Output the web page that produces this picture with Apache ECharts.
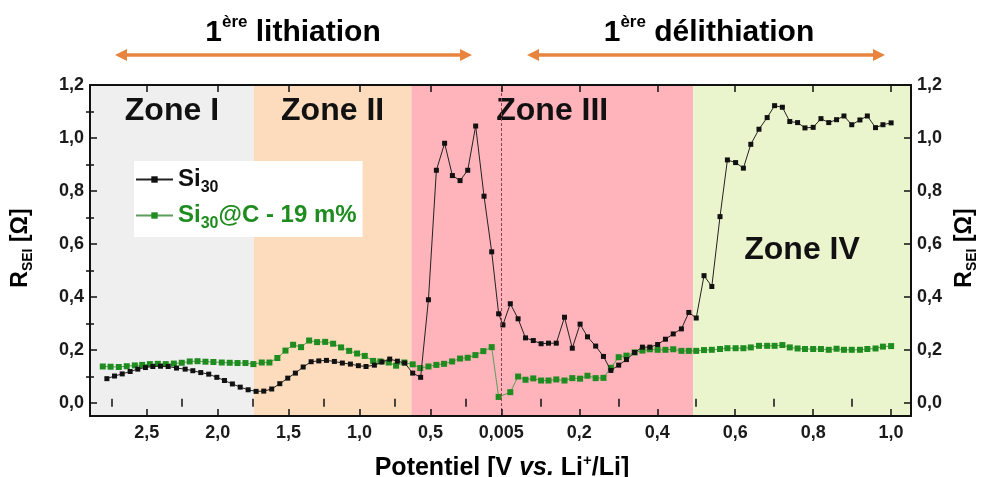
<!DOCTYPE html>
<html><head><meta charset="utf-8">
<script src="https://cdn.jsdelivr.net/npm/echarts@6/dist/echarts.min.js"></script>
<style>html,body{margin:0;padding:0;background:#fff}#c{width:984px;height:477px}</style>
</head><body><div id="c"></div>
<script>
const FONT = '"Liberation Sans", Arial, Helvetica, sans-serif';

// ---------------- data (potential in V, R_SEI in Ohm) ----------------
// Si30 - 1st lithiation (potential decreasing)
const si30LithV = [2.781,2.727,2.673,2.617,2.563,2.509,2.457,2.403,2.349,2.290,2.229,2.175,2.119,2.063,2.006,1.952,1.896,1.841,1.785,1.729,1.675,1.619,1.562,1.506,1.452,1.397,1.341,1.287,1.233,1.177,1.121,1.064,1.008,0.954,0.895,0.841,0.787,0.733,0.681,0.625,0.569,0.514,0.458,0.400,0.345,0.291,0.237,0.181,0.122,0.068,0.019];
const si30LithR = [0.091,0.101,0.109,0.118,0.127,0.133,0.137,0.138,0.137,0.131,0.127,0.121,0.114,0.108,0.096,0.084,0.071,0.059,0.049,0.043,0.044,0.052,0.072,0.093,0.112,0.135,0.155,0.158,0.160,0.156,0.150,0.146,0.140,0.137,0.142,0.154,0.165,0.157,0.150,0.112,0.096,0.389,0.878,0.980,0.858,0.839,0.878,1.045,0.780,0.570,0.336];
// Si30 - 1st delithiation (potential increasing)
const si30DelithV = [0.004,0.023,0.043,0.062,0.082,0.102,0.121,0.141,0.162,0.182,0.202,0.221,0.242,0.262,0.281,0.301,0.321,0.342,0.362,0.381,0.401,0.421,0.441,0.462,0.481,0.500,0.520,0.540,0.561,0.580,0.601,0.621,0.640,0.661,0.682,0.701,0.721,0.740,0.760,0.779,0.800,0.820,0.840,0.860,0.879,0.899,0.920,0.939,0.960,0.979,1.000];
const si30DelithR = [0.294,0.374,0.317,0.245,0.235,0.223,0.225,0.225,0.323,0.206,0.297,0.249,0.214,0.175,0.122,0.142,0.163,0.190,0.210,0.210,0.220,0.240,0.260,0.279,0.341,0.320,0.480,0.439,0.703,0.917,0.907,0.886,0.976,1.033,1.077,1.122,1.116,1.062,1.058,1.038,1.040,1.073,1.058,1.069,1.083,1.050,1.068,1.083,1.039,1.050,1.057];
// Si30@C - 19 m% - 1st lithiation
const si30cLithV = [2.810,2.755,2.697,2.641,2.584,2.532,2.478,2.422,2.366,2.309,2.253,2.197,2.142,2.086,2.030,1.971,1.915,1.860,1.804,1.748,1.689,1.635,1.579,1.522,1.468,1.412,1.355,1.299,1.242,1.186,1.130,1.073,1.017,0.963,0.904,0.853,0.794,0.742,0.684,0.625,0.572,0.514,0.458,0.404,0.347,0.291,0.237,0.183,0.127,0.068,0.019];
const si30cLithR = [0.137,0.136,0.135,0.138,0.141,0.143,0.146,0.147,0.146,0.148,0.151,0.156,0.157,0.155,0.154,0.152,0.151,0.150,0.150,0.146,0.152,0.152,0.169,0.197,0.219,0.210,0.235,0.229,0.230,0.223,0.209,0.196,0.186,0.177,0.158,0.156,0.152,0.140,0.152,0.145,0.131,0.137,0.143,0.147,0.156,0.167,0.170,0.180,0.195,0.210,0.022];
// Si30@C - 19 m% - 1st delithiation
const si30cDelithV = [0.023,0.043,0.062,0.082,0.102,0.121,0.141,0.162,0.182,0.202,0.221,0.242,0.262,0.281,0.301,0.321,0.342,0.362,0.381,0.401,0.421,0.441,0.462,0.481,0.500,0.520,0.540,0.561,0.580,0.601,0.621,0.640,0.661,0.682,0.701,0.721,0.740,0.760,0.779,0.800,0.820,0.840,0.860,0.879,0.899,0.920,0.939,0.960,0.979,1.000];
const si30cDelithR = [0.040,0.099,0.087,0.092,0.084,0.084,0.088,0.084,0.093,0.091,0.102,0.093,0.094,0.132,0.172,0.178,0.190,0.197,0.202,0.200,0.200,0.202,0.196,0.196,0.196,0.199,0.200,0.203,0.206,0.206,0.206,0.209,0.215,0.215,0.215,0.218,0.209,0.205,0.203,0.203,0.203,0.200,0.204,0.200,0.200,0.200,0.203,0.205,0.212,0.214];

const seriesNames = ['Si30', 'Si30@C - 19 m%'];

// tick labels
const lithTicks = [2.5, 2.0, 1.5, 1.0, 0.5];
const lithMinorTicks = [2.75, 2.25, 1.75, 1.25, 0.75, 0.25];
const turnLabel = '0,005';
const delithTicks = [0.2, 0.4, 0.6, 0.8, 1.0];
const delithMinorTicks = [0.1, 0.3, 0.5, 0.7, 0.9];
const yTicks = [0, 0.2, 0.4, 0.6, 0.8, 1.0, 1.2];
const yMinorTicks = [0.1, 0.3, 0.5, 0.7, 0.9, 1.1];

// zones
const zoneNames = ['Zone I', 'Zone II', 'Zone III', 'Zone IV'];
const zoneStart = [['lith', 2.9], ['lith', 1.745], ['lith', 0.634], ['delith', 0.492]];
const zoneEnd   = [['lith', 1.745], ['lith', 0.634], ['delith', 0.492], ['delith', 1.051]];
const zoneColors = ['#efefef', '#fcdcbd', '#ffb3ba', '#ebf5cd'];

const titles = ['1ère lithiation', '1ère délithiation'];

// ---------------- axis mapping (two branches on one axis) ----------------
const LITH_START = 2.9;       // potential at the left edge
const DELITH_END = 1.051;     // potential at the right edge
const DELITH_STRETCH = 2.748; // delithiation branch drawn wider per volt
const toU = (branch, v) => branch === 'lith' ? LITH_START - v : LITH_START + v * DELITH_STRETCH;
const U_MAX = toU('delith', DELITH_END);
const fmt = v => v.toFixed(1).replace('.', ',');

const xLabelItems = lithTicks.map(v => ({u: toU('lith', v), t: fmt(v)}))
  .concat([{u: toU('lith', 0), t: turnLabel}])
  .concat(delithTicks.map(v => ({u: toU('delith', v), t: fmt(v)})));
const xMajor = xLabelItems.map(d => d.u);
const xMinor = lithMinorTicks.map(v => toU('lith', v)).concat(delithMinorTicks.map(v => toU('delith', v)));
const xFormatter = val => {
  let best = xLabelItems[0];
  xLabelItems.forEach(d => { if (Math.abs(d.u - val) < Math.abs(best.u - val)) best = d; });
  return best.t;
};

const build = (lv, lr, dv, dr) =>
  lv.map((v, i) => [toU('lith', v), lr[i]]).concat(dv.map((v, i) => [toU('delith', v), dr[i]]));

const INK = '#111';
const GREEN = '#1e8c1e';
const tickLabelStyle = {fontFamily: FONT, fontSize: 18, fontWeight: 'bold', color: '#1a1a1a'};
const axLine = {show: true, onZero: false, lineStyle: {color: INK, width: 2}};

const xAxisBase = {type: 'value', min: 0, max: U_MAX, z: 5, splitLine: {show: false}, axisPointer: {show: false}};
const yAxisBase = {type: 'value', min: -0.05, max: 1.2, z: 5, splitLine: {show: false}};

const xAxes = [
  Object.assign({}, xAxisBase, {position: 'bottom', axisLine: axLine,
    axisTick: {inside: true, length: 7, customValues: xMajor, lineStyle: {color: INK, width: 1.5}},
    axisLabel: Object.assign({customValues: xMajor, formatter: xFormatter, margin: 8}, tickLabelStyle)}),
  Object.assign({}, xAxisBase, {position: 'bottom', axisLine: {show: false},
    axisTick: {inside: true, length: 4, customValues: xMinor, lineStyle: {color: INK, width: 1.5}},
    axisLabel: {show: false}}),
  Object.assign({}, xAxisBase, {position: 'top', axisLine: axLine,
    axisTick: {inside: true, length: 7, customValues: xMajor, lineStyle: {color: INK, width: 1.5}},
    axisLabel: {show: false}}),
  Object.assign({}, xAxisBase, {position: 'top', axisLine: {show: false},
    axisTick: {inside: true, length: 4, customValues: xMinor, lineStyle: {color: INK, width: 1.5}},
    axisLabel: {show: false}})
];
const yAxes = ['left', 'right'].map(pos =>
  Object.assign({}, yAxisBase, {position: pos, axisLine: axLine,
    axisTick: {inside: true, length: 7, customValues: yTicks, lineStyle: {color: INK, width: 1.5}},
    axisLabel: Object.assign({customValues: yTicks, formatter: v => fmt(v), margin: 6}, tickLabelStyle)})
).concat(['left', 'right'].map(pos =>
  Object.assign({}, yAxisBase, {position: pos, axisLine: {show: false},
    axisTick: {inside: true, length: 4, customValues: yMinorTicks, lineStyle: {color: INK, width: 1.5}},
    axisLabel: {show: false}})
));

const zoneAreas = zoneNames.map((n, i) => {
  const isLast = i === zoneNames.length - 1;
  return [{
    name: n,
    xAxis: toU(zoneStart[i][0], zoneStart[i][1]),
    itemStyle: {color: zoneColors[i], opacity: 1},
    label: {show: true, position: isLast ? 'inside' : 'insideTop', distance: 10,
      fontFamily: FONT, fontSize: 32, fontWeight: 'bold', color: '#111'}
  }, {xAxis: toU(zoneEnd[i][0], zoneEnd[i][1])}];
});

// decorative double arrows
const ORANGE = '#e8843e';
function arrow(x1, x2, y) {
  return [
    {type: 'line', shape: {x1: x1 + 6, y1: y, x2: x2 - 6, y2: y}, style: {stroke: ORANGE, lineWidth: 3.5}},
    {type: 'polygon', shape: {points: [[x1, y], [x1 + 12, y - 6], [x1 + 12, y + 6]]}, style: {fill: ORANGE}},
    {type: 'polygon', shape: {points: [[x2, y], [x2 - 12, y - 6], [x2 - 12, y + 6]]}, style: {fill: ORANGE}}
  ];
}
const titleRich = {
  m: {fontFamily: FONT, fontSize: 30, fontWeight: 'bold', color: '#111', verticalAlign: 'bottom', lineHeight: 34},
  sup: {fontFamily: FONT, fontSize: 17, fontWeight: 'bold', color: '#111', verticalAlign: 'top', lineHeight: 18}
};
const titleText = t => t.replace(/^1(ère)(.*)$/, '{m|1}{sup|$1}{m|$2}');
const nameRich = {
  m: {fontFamily: FONT, fontSize: 23, fontWeight: 'bold', color: '#111', verticalAlign: 'top', lineHeight: 26},
  s: {fontFamily: FONT, fontSize: 14, fontWeight: 'bold', color: '#111', verticalAlign: 'bottom', lineHeight: 14}
};

const chart = echarts.init(document.getElementById('c'), null, {renderer: 'canvas'});
chart.setOption({
  animation: false,
  backgroundColor: '#fff',
  grid: {left: 90, right: 73, top: 85, bottom: 61, containLabel: false},
  xAxis: xAxes,
  yAxis: yAxes,
  legend: {
    orient: 'vertical', left: 134, top: 161,
    backgroundColor: '#fff', padding: [6, 6, 5, 1],
    itemWidth: 37, itemHeight: 8, itemGap: 7,
    data: [{name: seriesNames[0], textStyle: {color: INK}}, {name: seriesNames[1], textStyle: {color: GREEN}}],
    formatter: n => '{m|' + n.replace('30', '}{s|30}{m|') + '}',
    textStyle: {
      fontFamily: FONT, fontWeight: 'bold',
      rich: {
        m: {fontFamily: FONT, fontSize: 24, fontWeight: 'bold', verticalAlign: 'top', lineHeight: 25},
        s: {fontFamily: FONT, fontSize: 16, fontWeight: 'bold', verticalAlign: 'bottom', lineHeight: 16, padding: [0, 0, -4, 0]}
      }
    }
  },
  series: [
    {
      type: 'line', name: 'zones', data: [], z: 1, silent: true, xAxisIndex: 0, yAxisIndex: 0,
      markArea: {silent: true, data: zoneAreas},
      markLine: {silent: true, symbol: 'none', label: {show: false},
        lineStyle: {color: '#9a3a4a', type: [3, 2], width: 1},
        data: [{xAxis: toU('lith', 0)}]}
    },
    {
      type: 'line', name: seriesNames[1], z: 3, xAxisIndex: 0, yAxisIndex: 0,
      data: build(si30cLithV, si30cLithR, si30cDelithV, si30cDelithR),
      symbol: 'rect', symbolSize: 6,
      itemStyle: {color: GREEN}, lineStyle: {color: '#5c9e5c', width: 1}
    },
    {
      type: 'line', name: seriesNames[0], z: 4, xAxisIndex: 0, yAxisIndex: 0,
      data: build(si30LithV, si30LithR, si30DelithV, si30DelithR),
      symbol: 'rect', symbolSize: 5,
      itemStyle: {color: INK}, lineStyle: {color: '#222', width: 1}
    }
  ],
  graphic: [
    {type: 'text', x: 293, y: 31, style: {text: titleText(titles[0]), align: 'center', verticalAlign: 'middle', rich: titleRich}},
    {type: 'text', x: 709, y: 31, style: {text: titleText(titles[1]), align: 'center', verticalAlign: 'middle', rich: titleRich}},
    ...arrow(115, 472, 55),
    ...arrow(527, 885, 55),
    {type: 'text', x: 22, y: 248, rotation: Math.PI / 2,
      style: {text: '{m|R}{s|SEI}{m| [Ω]}', align: 'center', verticalAlign: 'middle', rich: nameRich}},
    {type: 'text', x: 966, y: 248, rotation: Math.PI / 2,
      style: {text: '{m|R}{s|SEI}{m| [Ω]}', align: 'center', verticalAlign: 'middle', rich: nameRich}},
    {type: 'text', x: 502, y: 467, style: {
      text: '{m|Potentiel [V }{i|vs.}{m| Li}{p|+}{m|/Li]}', align: 'center', verticalAlign: 'middle',
      rich: {
        m: {fontFamily: FONT, fontSize: 25, fontWeight: 'bold', color: '#111', verticalAlign: 'bottom', lineHeight: 28},
        i: {fontFamily: FONT, fontSize: 25, fontWeight: 'bold', fontStyle: 'italic', color: '#111', verticalAlign: 'bottom', lineHeight: 28},
        p: {fontFamily: FONT, fontSize: 15, fontWeight: 'bold', color: '#111', verticalAlign: 'top', lineHeight: 16}
      }}}
  ]
});
</script></body></html>
